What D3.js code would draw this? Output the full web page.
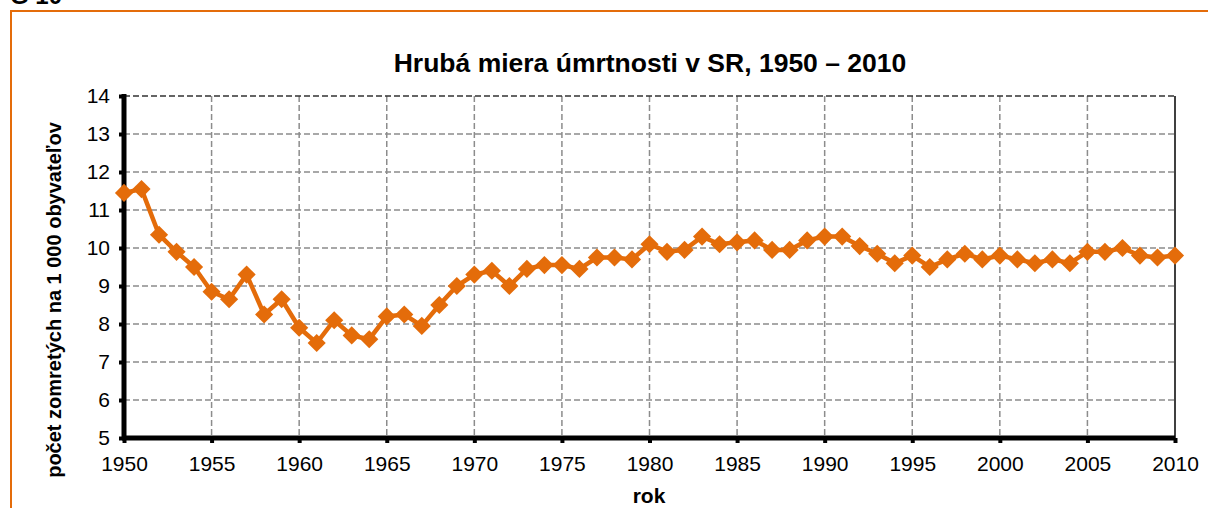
<!DOCTYPE html>
<html>
<head>
<meta charset="utf-8">
<script src="https://cdn.jsdelivr.net/npm/d3@7"></script>
<style>
  body { margin: 0; background: #fff; }
  svg { display: block; font-family: Arial, "Liberation Sans", sans-serif; }
  .grid line { stroke: #8c8c8c; stroke-width: 1.5; stroke-dasharray: 6,3; }
</style>
</head>
<body>
<svg width="1208" height="508"></svg>
<script>
var years = d3.range(1950, 2011);
var rates = [11.45, 11.55, 10.35, 9.9, 9.5, 8.85, 8.65, 9.3, 8.25, 8.65,
             7.9, 7.5, 8.1, 7.7, 7.6, 8.2, 8.25, 7.95, 8.5, 9.0,
             9.3, 9.4, 9.0, 9.45, 9.55, 9.55, 9.45, 9.75, 9.75, 9.7,
             10.1, 9.9, 9.95, 10.3, 10.1, 10.15, 10.2, 9.95, 9.95, 10.2,
             10.3, 10.3, 10.05, 9.85, 9.6, 9.8, 9.5, 9.7, 9.85, 9.7,
             9.8, 9.7, 9.6, 9.7, 9.6, 9.9, 9.9, 10.0, 9.8, 9.75, 9.8];
var xTicks = d3.range(1950, 2011, 5);
var yTicks = d3.range(5, 15, 1);

var svg = d3.select("svg");
var orange = "#e46c0a";

var x = d3.scaleLinear().domain([1950, 2010]).range([124, 1175]);
var y = d3.scaleLinear().domain([5, 14]).range([438, 96]);

// frame
svg.append("path")
    .attr("d", "M11,508 V11 H1208")
    .attr("fill", "none")
    .attr("stroke", orange)
    .attr("stroke-width", 2);

svg.append("text")
    .attr("x", 10).attr("y", 4)
    .attr("font-size", 24).attr("font-weight", "bold")
    .text("G 10");

// grid
var grid = svg.append("g").attr("class", "grid");
grid.selectAll(".v").data(xTicks.slice(1, -1)).enter().append("line")
    .attr("x1", x).attr("x2", x).attr("y1", y(14)).attr("y2", y(5));
grid.selectAll(".h").data(yTicks.slice(1)).enter().append("line")
    .attr("x1", x(1950)).attr("x2", x(2010)).attr("y1", y).attr("y2", y)
    .style("stroke", function(d) { return d == 14 ? "#333" : null; });

svg.append("line")
    .attr("x1", x(2010)).attr("x2", x(2010)).attr("y1", y(14)).attr("y2", y(5))
    .attr("stroke", "#000").attr("stroke-width", 1.5);

// axes
var yAxis = svg.append("g")
    .attr("transform", "translate(" + x(1950) + ",0)")
    .call(d3.axisLeft(y).tickValues(yTicks).tickSize(5).tickPadding(9));
var xAxis = svg.append("g")
    .attr("transform", "translate(0," + y(5) + ")")
    .call(d3.axisBottom(x).tickValues(xTicks).tickFormat(d3.format("d")).tickSize(5).tickPadding(13));

[yAxis, xAxis].forEach(function(a) {
  a.select(".domain").remove();
  a.selectAll(".tick line").attr("stroke", "#000").attr("stroke-width", 4);
  a.selectAll(".tick text").attr("font-size", 21).attr("fill", "#000")
      .attr("font-family", "Arial, 'Liberation Sans', sans-serif");
});

svg.append("line")
    .attr("x1", x(1950)).attr("x2", x(1950)).attr("y1", y(14) - 2).attr("y2", y(5) + 2)
    .attr("stroke", "#000").attr("stroke-width", 5);
svg.append("line")
    .attr("x1", x(1950) - 2).attr("x2", x(2010)).attr("y1", y(5)).attr("y2", y(5))
    .attr("stroke", "#000").attr("stroke-width", 5);

// line + markers
var data = years.map(function(d, i) { return { year: d, rate: rates[i] }; });

svg.append("path")
    .datum(data)
    .attr("fill", "none")
    .attr("stroke", orange)
    .attr("stroke-width", 4.5)
    .attr("d", d3.line().x(function(d) { return x(d.year); }).y(function(d) { return y(d.rate); }));

svg.selectAll(".pt").data(data).enter().append("path")
    .attr("class", "pt")
    .attr("transform", function(d) { return "translate(" + x(d.year) + "," + y(d.rate) + ")"; })
    .attr("d", d3.symbol().type(d3.symbolDiamond2).size(210))
    .attr("fill", orange);

// titles
svg.append("text")
    .attr("x", 650).attr("y", 72)
    .attr("text-anchor", "middle")
    .attr("font-size", 26.5).attr("font-weight", "bold")
    .text("Hrubá miera úmrtnosti v SR, 1950 – 2010");

svg.append("text")
    .attr("x", 649).attr("y", 503)
    .attr("text-anchor", "middle")
    .attr("font-size", 21).attr("font-weight", "bold")
    .text("rok");

svg.append("text")
    .attr("transform", "translate(61,300) rotate(-90)")
    .attr("text-anchor", "middle")
    .attr("font-size", 20).attr("font-weight", "bold")
    .text("počet zomretých na 1 000 obyvateľov");
</script>
</body>
</html>
